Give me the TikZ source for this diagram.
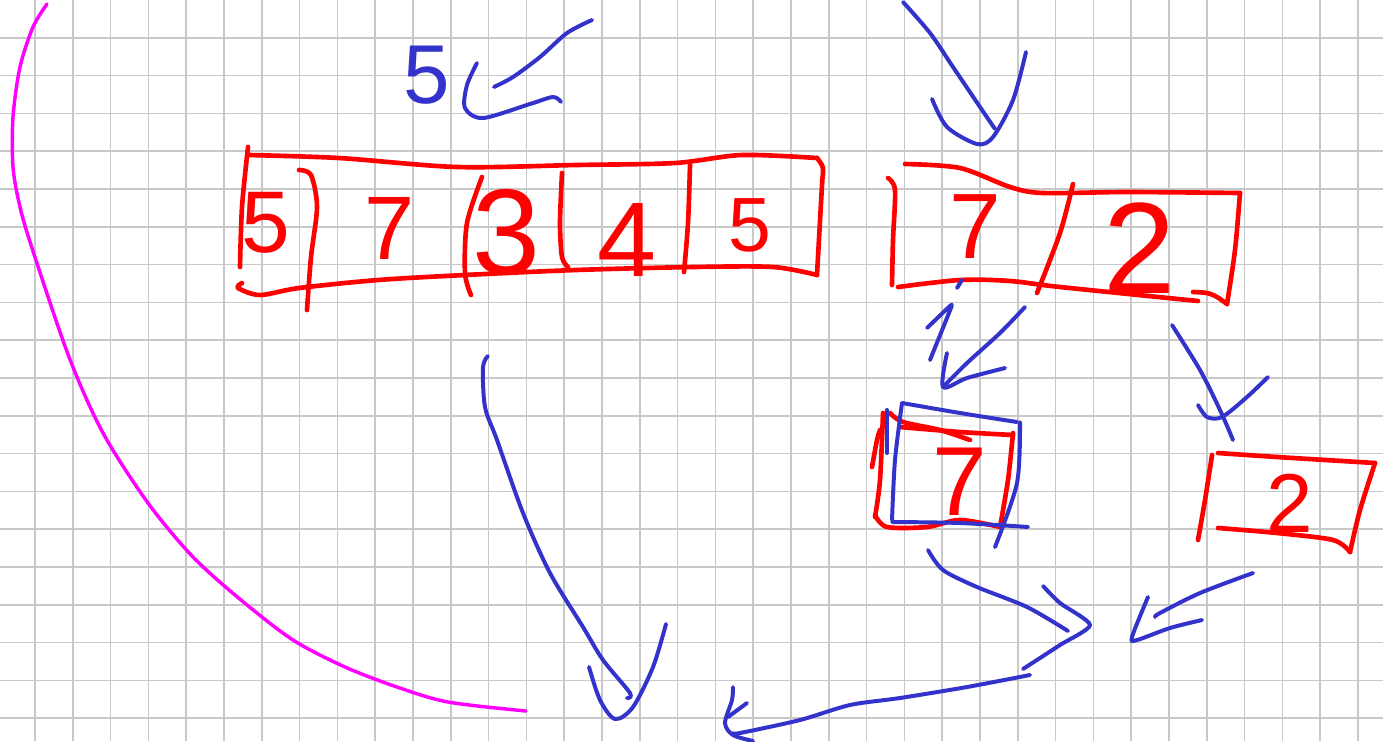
\documentclass[tikz,border=0pt]{standalone}
\usepackage{fontspec}
\setsansfont{Liberation Sans}
\usepackage{xcolor}

\definecolor{penred}{RGB}{255,0,0}
\definecolor{penblue}{RGB}{51,51,204}
\definecolor{penpink}{RGB}{255,0,255}
\definecolor{gridgray}{RGB}{200,200,200}

\begin{document}
\begin{tikzpicture}[
    x=0.0265cm, y=-0.0265cm,
    gridline/.style={gridgray, line width=1.1pt},
    redpen/.style={penred, line width=3.5pt, line cap=round, line join=round},
    bluepen/.style={penblue, line width=3pt, line cap=round, line join=round},
    pinkpen/.style={penpink, line width=2.6pt, line cap=round},
    digit/.style={inner sep=0pt, font=\sffamily\fontsize{#1}{#1}\selectfont},
    reddigit/.style={digit=#1, text=penred},
    bluedigit/.style={digit=#1, text=penblue},
]

% Paper
\useasboundingbox (0,0) rectangle (1383,741);
\fill[white] (0,0) rectangle (1383,741);
\foreach \i in {0,...,35}
    \draw[gridline] (35+37.8*\i,0) -- (35+37.8*\i,741);
\foreach \j in {1,...,19}
    \draw[gridline] (0,37.8*\j) -- (1383,37.8*\j);

% Magenta bracket
\draw[pinkpen] plot[smooth] coordinates {(47,4) (33,27) (20,67) (13,117)
    (13,167) (20,207) (32,248) (69,357) (103,433) (148,503) (193,557)
    (241,600) (293,640) (345,667) (397,687) (448,702) (526,711)};

% Top label and its arrow
\node[bluedigit=63] (fiveTop) at (427,75) {5};
\draw[bluepen] plot[smooth] coordinates {(592,20) (567,33) (540,57) (513,77) (494,87)};
\draw[bluepen] plot[smooth] coordinates {(477,63) (467,85) (465,108) (483,118)
    (530,104) (553,97) (561,102)};

% Top right arrow
\draw[bluepen] plot[smooth] coordinates {(903,2) (930,33) (953,67) (980,107) (995,129)};
\draw[bluepen] plot[smooth] coordinates {(932,99) (947,127) (977,144) (993,137)
    (1013,100) (1026,52)};

% Left array
\draw[redpen] plot[smooth] coordinates {(248,155) (339,158) (457,167) (576,165)
    (675,163) (742,155) (817,158)};
\draw[redpen] plot[smooth] coordinates {(817,158) (823,168) (822,185) (817,275)};
\draw[redpen] plot[smooth] coordinates {(817,275) (773,267) (694,267) (576,270)
    (465,275) (378,280) (299,288) (260,295) (238,288) (242,283)};
\draw[redpen] plot[smooth] coordinates {(248,147) (242,207) (240,267)};
\draw[redpen] plot[smooth] coordinates {(299,170) (311,175) (317,207) (311,257) (307,310)};
\draw[redpen] plot[smooth] coordinates {(482,177) (467,223) (465,273) (471,295)};
\draw[redpen] plot[smooth] coordinates {(562,173) (560,223) (562,257) (568,267)};
\draw[redpen] plot[smooth] coordinates {(690,165) (688,223) (684,272)};
\node[reddigit=66] (fiveA) at (266,223) {5};
\node[reddigit=68] (sevenA) at (390,228) {7};
\node[reddigit=92] (three) at (506,232) {3};
\node[reddigit=80] (four) at (627,240) {4};
\node[reddigit=58] (fiveB) at (750,225) {5};

% Right array
\draw[redpen] plot[smooth] coordinates {(905,164) (960,168) (1010,187) (1043,193)
    (1127,192) (1240,193)};
\draw[redpen] plot[smooth] coordinates {(1240,193) (1235,250) (1227,304)};
\draw[redpen] plot[smooth] coordinates {(1227,304) (1217,297) (1207,293) (1193,292)};
\draw[redpen] plot[smooth] coordinates {(898,287) (960,280) (1010,281) (1060,287) (1198,301)};
\draw[redpen] plot[smooth] coordinates {(888,178) (895,190) (893,240) (892,285)};
\draw[redpen] plot[smooth] coordinates {(1073,184) (1060,233) (1037,293)};
\node[reddigit=70] (sevenR) at (975,227) {7};
\node[reddigit=98] (twoR) at (1140,248) {2};

% Arrows from right array
\draw[bluepen] (962,280) -- (957,288);
\draw[bluepen, rounded corners=3pt] (927,328) -- (953,303) -- (930,360);
\draw[bluepen] plot[smooth] coordinates {(1025,307) (1000,333) (967,363) (943,387)};
\draw[bluepen] plot[smooth] coordinates {(947,353) (943,387) (967,378) (1005,368)};
\draw[bluepen] plot[smooth] coordinates {(1172,325) (1200,370) (1220,410) (1233,440)};
\draw[bluepen] plot[smooth] coordinates {(1198,405) (1207,417) (1222,417) (1247,397) (1268,377)};

% Lower left box
\draw[redpen] plot[smooth] coordinates {(872,467) (877,440) (880,430)};
\draw[redpen] plot[smooth] coordinates {(883,413) (880,480) (875,517)};
\draw[redpen] plot[smooth] coordinates {(890,413) (903,422) (940,430) (970,440)};
\draw[redpen] plot[smooth] coordinates {(900,427) (960,432) (1013,435)};
\draw[redpen] plot[smooth] coordinates {(1013,433) (1008,480) (1000,527)};
\draw[redpen] plot[smooth] coordinates {(875,515) (887,527) (927,527) (960,520) (1000,527)};
\draw[bluepen] plot[smooth] coordinates {(902,403) (960,413) (1017,422)};
\draw[bluepen] plot[smooth] coordinates {(902,403) (895,460) (892,520)};
\draw[bluepen] (887,410) -- (887,453);
\draw[bluepen] plot[smooth] coordinates {(1020,422) (1017,483) (995,547)};
\draw[bluepen] plot[smooth] coordinates {(892,522) (960,523) (1028,527)};
\node[reddigit=74] (sevenL) at (960,482) {7};

% Lower right box
\draw[redpen] plot[smooth] coordinates {(1212,455) (1205,500) (1198,540)};
\draw[redpen] plot[smooth] coordinates {(1218,453) (1277,457) (1375,463)};
\draw[redpen] plot[smooth] coordinates {(1375,463) (1360,510) (1350,552)};
\draw[redpen] plot[smooth] coordinates {(1218,528) (1277,533) (1333,540) (1350,552)};
\node[reddigit=63] (twoL) at (1290,503) {2};

% Merge arrows
\draw[bluepen] plot[smooth] coordinates {(928,550) (943,570) (977,587) (1027,607) (1068,631)};
\draw[bluepen] plot[smooth, tension=0.4] coordinates {(1043,586) (1060,603) (1090,625)
    (1060,645) (1023,669)};
\draw[bluepen] plot[smooth] coordinates {(1030,675) (967,687) (900,698) (850,705)
    (800,720) (740,733) (733,733)};
\draw[bluepen] plot[smooth] coordinates {(733,687) (732,700) (725,723) (733,735) (753,741)};
\draw[bluepen] (747,703) -- (728,717);
\draw[bluepen] plot[smooth] coordinates {(1253,573) (1200,593) (1160,613) (1155,617)};
\draw[bluepen] plot[smooth] coordinates {(1148,597) (1132,637) (1137,640) (1170,628) (1202,620)};

% Long arrow down
\draw[bluepen] plot[smooth] coordinates {(488,356) (483,367) (485,407) (497,440)
    (523,513) (550,573) (583,627) (603,660) (630,693) (627,698)};
\draw[bluepen] plot[smooth] coordinates {(589,667) (600,700) (615,719) (633,707)
    (653,667) (666,624)};

\end{tikzpicture}
\end{document}
